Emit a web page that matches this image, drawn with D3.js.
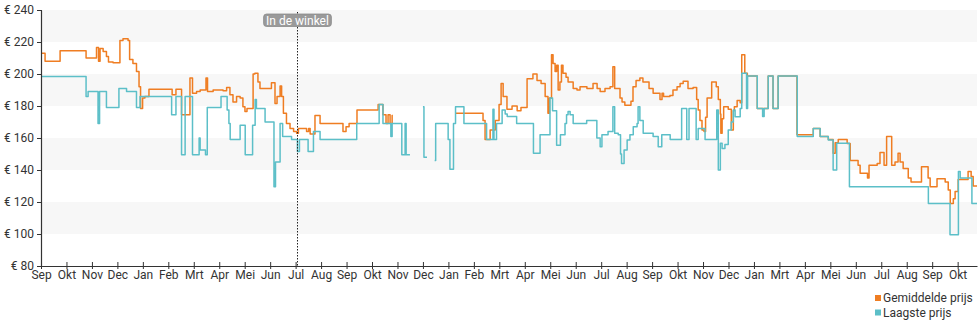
<!DOCTYPE html>
<html>
<head>
<meta charset="utf-8">
<script src="https://cdn.jsdelivr.net/npm/d3@7"></script>
<style>
  html, body { margin: 0; padding: 0; background: #fff; }
  svg { display: block; font-family: Roboto, "Open Sans", sans-serif; }
</style>
</head>
<body>
<svg id="chart" width="980" height="325"></svg>
<script>
// Month tick labels (one tick per month step)
const monthLabels = [
  "Sep","Okt","Nov","Dec","Jan","Feb","Mrt","Apr","Mei","Jun","Jul","Aug",
  "Sep","Okt","Nov","Dec","Jan","Feb","Mrt","Apr","Mei","Jun","Jul","Aug",
  "Sep","Okt","Nov","Dec","Jan","Mrt","Apr","Mei","Jun","Jul","Aug","Sep","Okt"
];
const priceTicks = [80, 100, 120, 140, 160, 180, 200, 220, 240];
const seriesNames = ["Gemiddelde prijs", "Laagste prijs"];
const storeMarker = { t: 10.07, label: "In de winkel" };

// [month position, price in €]; null marks a gap in the data
const avgPrice = [
  [0,213],[0.16,208],[0.75,214.5],[1.77,210],[2.18,216.5],[2.26,208],[2.32,216],[2.44,214],[2.57,211],[2.65,207.5],
  [2.83,207],[3.10,221],[3.22,222],[3.42,221],[3.48,209],[3.61,206.5],[3.75,201.5],[3.85,192],[3.91,178.5],[3.99,185],
  [4.08,186],[4.24,190.5],[5.15,187],[5.30,190.5],[5.52,174.5],[5.85,197.5],[5.95,188],[6.11,189],[6.25,190],[6.48,197.5],
  [6.54,189],[6.76,190],[7.15,189.5],[7.29,191.5],[7.42,187],[7.54,182.5],[7.68,186],[7.82,185],[7.93,179.5],[8.01,176.5],
  [8.09,178.5],[8.33,200],[8.40,200.5],[8.52,195],[8.60,191],[9.05,194.5],[9.19,181.5],[9.27,186],[9.39,192.5],[9.45,186],
  [9.52,175.5],[9.64,169],[9.78,166],[9.92,164],[10.04,163],[10.11,166],[10.43,164],[10.51,166],[10.57,162.5],[10.76,174],
  [10.96,169],[11.86,164],[11.98,167],[12.10,169],[12.41,177.5],[13.24,181],[13.43,174.5],[13.55,169],[13.63,174.5],[13.71,169],
  [13.79,174],[13.82,174],[13.83,null],
  [16.26,175.5],[17.36,171],[17.44,159],[17.64,165],[17.84,171],[17.99,181],[18.07,194],[18.15,186],[18.30,178],[18.50,180],
  [18.70,177],[18.85,179],[19.09,197],[19.32,200],[19.48,196],[19.64,194],[19.80,186],[19.91,175.5],[19.97,185],[20.05,212],
  [20.11,206.5],[20.19,201.5],[20.25,205.5],[20.31,190],[20.38,195],[20.44,205.5],[20.50,200.5],[20.62,198],[20.70,195],[20.90,191],
  [21.05,190],[21.17,192],[21.44,191],[21.68,194],[21.84,191],[21.96,189],[22.15,191],[22.35,192],[22.46,204.5],[22.53,191],
  [22.74,185],[22.82,182.5],[22.93,180.5],[23.17,183],[23.25,192],[23.37,196],[23.52,197.5],[23.64,195],[23.80,195],[23.88,191],
  [24.04,188],[24.31,184],[24.39,188],[24.45,186],[24.70,186.5],[24.82,190],[24.98,192],[25.10,194],[25.22,195.5],[25.41,191],
  [25.61,191.5],[25.75,184],[25.81,177.5],[25.88,171],[25.96,165],[26.04,164],[26.10,173],[26.16,185],[26.34,195],[26.52,192],
  [26.60,184],[26.68,175],[26.70,163],[26.75,172],[26.81,179.5],[26.99,178],[27.11,165],[27.19,177],[27.23,179.5],[27.34,183.5],
  [27.46,182],[27.52,212],[27.64,200.5],[27.74,198.75],[28.13,178.5],[28.56,198.75],[28.75,178.5],[28.95,198.75],[29.69,162],[30.33,166],
  [30.60,161],[30.92,159],[31.11,150.5],[31.19,157],[31.31,159],[31.66,156.5],[31.78,146],[32.09,143],[32.17,138],[32.46,135],
  [32.52,143],[32.84,144],[32.95,151],[33.11,143],[33.21,161],[33.41,143],[33.54,145],[33.66,150.5],[33.74,145],[33.86,141],
  [34.06,135],[34.17,132.5],[34.58,142],[34.84,135],[34.92,129.5],[35.19,134.5],[35.51,132.5],[35.63,127.5],[35.71,119],[35.83,122],
  [35.90,126.5],[36.02,134],[36.41,139],[36.53,136],[36.61,130],[36.76,130]
];

const lowPrice = [
  [0,198.5],[1.77,186],[1.85,189],[2.24,169],[2.30,189],[2.57,179],[3.06,191],[3.36,189],[3.75,179],[3.89,186],
  [5.13,174.5],[5.30,186],[5.52,149.5],[5.66,186],[5.95,149.5],[6.21,160],[6.25,152.5],[6.46,149.5],[6.53,179],[7.07,186],
  [7.31,177.5],[7.38,169],[7.43,159],[7.82,168],[8.02,149.5],[8.31,168],[8.41,184],[8.46,178.5],[8.80,170],[9.15,129.5],
  [9.21,145],[9.39,169],[9.49,161],[9.84,159],[10.07,151.5],[10.15,159],[10.49,151.5],[10.70,164],[10.96,159],[12.40,169],
  [13.28,181],[13.43,169],[13.74,161],[13.79,169],[14.17,149.5],[14.30,169],[14.34,149.5],[14.49,149.5],[14.50,null],
  [15.00,179.5],[15.04,148],[15.16,148],[15.17,null],
  [15.46,146],[15.50,169],[15.99,159],[16.06,140.5],[16.20,169],[16.28,179.5],[16.61,169],[17.50,159],[17.75,178],[17.79,159],
  [17.89,169],[18.11,177.5],[18.23,175],[18.31,173.5],[18.68,169],[19.34,150.5],[19.60,162],[19.99,185],[20.09,177],[20.25,155.5],
  [20.40,162],[20.58,169],[20.64,174.5],[20.70,176.5],[20.78,174.5],[20.90,169],[21.43,171],[21.83,160],[21.96,154.5],[22.03,162],
  [22.27,164],[22.46,179.5],[22.53,163],[22.67,162],[22.76,150],[22.80,144],[22.90,152.5],[23.02,158.75],[23.13,162],[23.26,167],
  [23.41,169],[23.45,179.5],[23.52,171],[23.65,163],[24.04,161],[24.24,154.5],[24.38,162],[24.71,159],[25.16,178.5],[25.36,159],
  [25.45,178.5],[25.73,159],[25.81,166],[26.08,159],[26.54,177.5],[26.60,140],[26.68,156.7],[26.75,153.5],[26.86,156],[26.99,165],
  [27.11,170],[27.19,177.5],[27.26,173.3],[27.46,178.5],[27.52,200.5],[27.71,178.5],[27.75,198.75],[28.13,178.5],[28.34,173.5],[28.40,178.5],
  [28.56,198.75],[28.75,178.5],[28.95,198.75],[29.70,161],[30.33,166],[30.60,161],[30.92,158.75],[31.11,140],[31.25,156.7],[31.75,129.5],
  [34.85,119],[35.70,99.5],[36.03,139],[36.10,135],[36.56,119],[36.76,119]
];

const colors = { avg: "#ef7d22", low: "#5cbfc8", text: "#333", band: "#f7f7f7" };

const svg = d3.select("#chart");
const plot = { left: 41, right: 977, top: 10, bottom: 266 };

const x = d3.scaleLinear().domain([0, 36.76]).range([plot.left, plot.right]);
const y = d3.scaleLinear().domain([80, 240]).range([plot.bottom, plot.top]);

// Alternating horizontal bands between price ticks
const bands = d3.pairs(priceTicks).filter((_, i) => i % 2 === 1);
svg.append("g").selectAll("rect").data(bands).join("rect")
  .attr("x", plot.left)
  .attr("width", plot.right - plot.left)
  .attr("y", d => y(d[1]))
  .attr("height", d => y(d[0]) - y(d[1]))
  .attr("fill", colors.band);

// Price lines
const line = d3.line()
  .defined(d => d[1] != null)
  .x(d => x(d[0]))
  .y(d => y(d[1]))
  .curve(d3.curveStepAfter);

svg.append("path").datum(avgPrice)
  .attr("fill", "none").attr("stroke", colors.avg).attr("stroke-width", 1.5)
  .attr("stroke-linejoin", "round").attr("d", line);

svg.append("path").datum(lowPrice)
  .attr("fill", "none").attr("stroke", colors.low).attr("stroke-width", 1.5)
  .attr("stroke-linejoin", "round").attr("d", line);

// Axes
const yAxis = svg.append("g")
  .attr("transform", `translate(${plot.left},0)`)
  .call(d3.axisLeft(y).tickValues(priceTicks).tickFormat(d => "€ " + d)
    .tickSize(4).tickSizeOuter(0).tickPadding(3));
yAxis.selectAll(".tick line").attr("x2", -4).attr("x1", 1);

const xAxis = svg.append("g")
  .attr("transform", `translate(0,${plot.bottom})`)
  .call(d3.axisBottom(x).tickValues(d3.range(monthLabels.length)).tickFormat(i => monthLabels[i])
    .tickSize(3).tickSizeOuter(0).tickPadding(1));
xAxis.selectAll(".tick line").attr("y1", -4).attr("y2", 3);

[yAxis, xAxis].forEach(g => {
  g.select(".domain").attr("stroke", colors.text).attr("stroke-width", 1.2);
  g.selectAll(".tick line").attr("stroke", colors.text);
  g.selectAll(".tick text").attr("fill", colors.text).attr("font-size", 12)
    .attr("font-family", "Roboto, sans-serif");
});

// Store marker
const mx = Math.round(x(storeMarker.t)) + 0.5;
svg.append("line")
  .attr("x1", mx).attr("x2", mx).attr("y1", plot.top + 2).attr("y2", plot.bottom)
  .attr("stroke", "#222").attr("stroke-width", 1).attr("stroke-dasharray", "1.5,1.5");
const labelG = svg.append("g");
const lt = labelG.append("text")
  .attr("x", mx).attr("y", 24.5)
  .attr("text-anchor", "middle")
  .attr("font-size", 12)
  .attr("fill", "#fff")
  .text(storeMarker.label);
const bb = lt.node().getBBox();
labelG.insert("rect", "text")
  .attr("x", bb.x - 2.5).attr("y", 14)
  .attr("width", bb.width + 5).attr("height", 12.5)
  .attr("rx", 3)
  .attr("fill", "#9a9a9a").attr("stroke", "#8a8a8a").attr("stroke-width", 0.8);

// Legend
const legend = svg.append("g").attr("transform", "translate(875,295)");
const legendItems = legend.selectAll("g").data(seriesNames).join("g")
  .attr("transform", (d, i) => `translate(0,${i * 14.5})`);
legendItems.append("rect")
  .attr("width", 6).attr("height", 6)
  .attr("fill", (d, i) => i === 0 ? colors.avg : colors.low);
legendItems.append("text")
  .attr("x", 8).attr("y", 7)
  .attr("font-size", 12).attr("fill", colors.text)
  .text(d => d);
</script>
</body>
</html>
